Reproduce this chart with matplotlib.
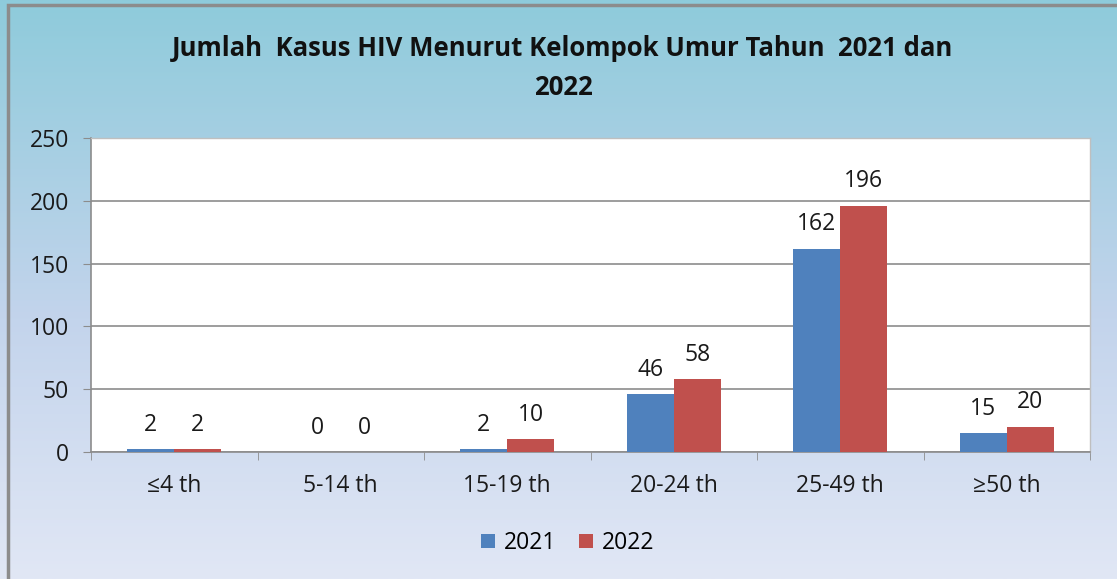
import matplotlib
matplotlib.use("Agg")
import matplotlib.pyplot as plt
import numpy as np
from matplotlib.patches import Rectangle
from matplotlib.colors import LinearSegmentedColormap

categories = ["≤4 th", "5-14 th", "15-19 th", "20-24 th", "25-49 th", "≥50 th"]
series_names = ["2021", "2022"]
values_2021 = [2, 0, 2, 46, 162, 15]
values_2022 = [2, 0, 10, 58, 196, 20]
yticks = [0, 50, 100, 150, 200, 250]
title = "Jumlah  Kasus HIV Menurut Kelompok Umur Tahun  2021 dan\n2022"

colors = ["#4F81BD", "#C0504D"]
plt.rcParams['font.family'] = ['Open Sans', 'DejaVu Sans']

W, H = 1117, 579
fig = plt.figure(figsize=(W / 100, H / 100), dpi=100)

# gradient background
bg = fig.add_axes([0, 0, 1, 1], zorder=-10)
cmap = LinearSegmentedColormap.from_list(
    "bg", [(0.0, "#E1E7F5"), (0.45, "#C3D4EC"), (1.0, "#8ECBDB")])
grad = np.linspace(0, 1, 256).reshape(-1, 1)
bg.imshow(grad, aspect="auto", cmap=cmap, origin="lower", extent=[0, 1, 0, 1])
bg.add_patch(Rectangle((8 / W, -0.01), 1.2, 1 - 5 / H + 0.01, fill=False,
                       edgecolor="#8C8C8C", linewidth=2.5, transform=bg.transAxes))
bg.set_xlim(0, 1)
bg.set_ylim(0, 1)
bg.axis("off")

left, right, top, bottom = 91, 1090, 138, 452
ax = fig.add_axes([left / W, 1 - bottom / H, (right - left) / W, (bottom - top) / H])
ax.set_facecolor("white")

x = np.arange(len(categories))
bw = 0.283
bars = []
for i, (vals, c, name) in enumerate(zip([values_2021, values_2022], colors, series_names)):
    b = ax.bar(x + (i - 0.5) * bw, vals, bw, color=c, label=name, zorder=3)
    bars.append(b)
    for xi, v in zip(x + (i - 0.5) * bw, vals):
        ax.annotate(str(v), (xi, v), xytext=(0, 9), textcoords="offset points",
                    ha="center", va="bottom", fontsize=16.5, color="#1a1a1a")

ax.set_xlim(-0.5, len(categories) - 0.5)
ax.set_ylim(0, 250)
ax.set_yticks(yticks)
ax.set_yticklabels([str(t) for t in yticks], fontsize=16.5, color="#1a1a1a")
ax.set_xticks(x)
ax.set_xticklabels(categories, fontsize=16.5, color="#1a1a1a")
ax.tick_params(axis="x", length=0, pad=16)
ax.tick_params(axis="y", length=6, color="#8C8C8C", pad=10, direction="out")
# minor ticks at category boundaries
ax.set_xticks(np.arange(-0.5, len(categories), 1.0), minor=True)
ax.tick_params(axis="x", which="minor", length=6, color="#8C8C8C", direction="out")
ax.grid(axis="y", color="#8C8C8C", linewidth=1.2, zorder=0)
ax.set_axisbelow(True)
for s in ["top", "right"]:
    ax.spines[s].set_color("#BFBFBF")
    ax.spines[s].set_linewidth(1)
for s in ["left", "bottom"]:
    ax.spines[s].set_color("#8C8C8C")
    ax.spines[s].set_linewidth(1.2)

fig.text(563 / W, 1 - 68 / H, title, ha="center", va="center", fontsize=18.5,
         fontweight="bold", color="#111111", linespacing=1.6)

leg = fig.legend(handles=bars, labels=series_names, loc="center",
                 bbox_to_anchor=(568 / W, 1 - 543 / H), ncol=2, frameon=False,
                 fontsize=16.5, handlelength=0.6, handleheight=0.6, handletextpad=0.4,
                 columnspacing=1.0)

fig.savefig("out.png", dpi=100)
